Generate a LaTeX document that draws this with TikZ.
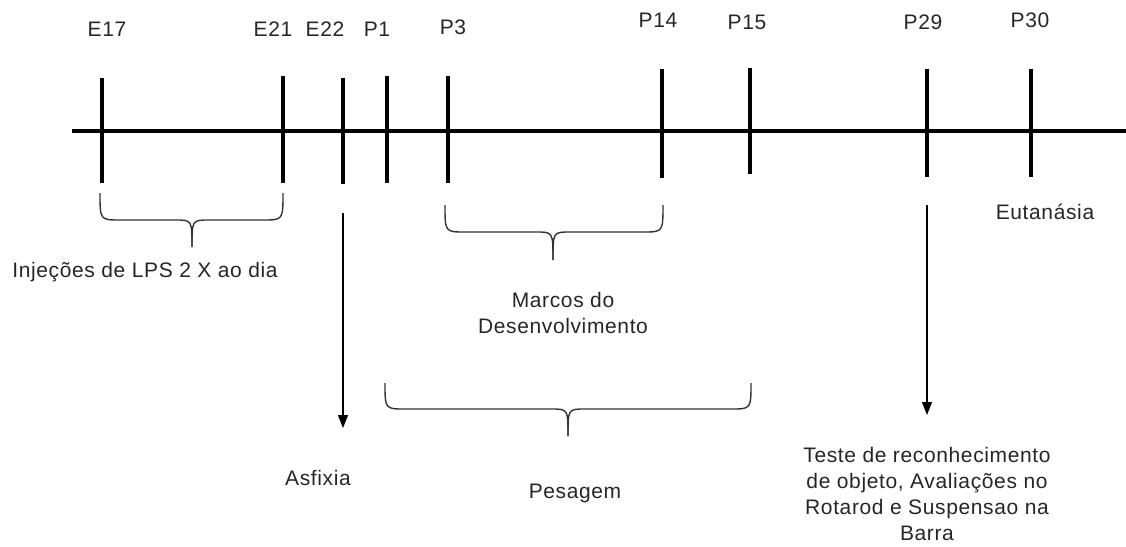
\documentclass[tikz,border=0pt]{standalone}
\usepackage{fontspec}
\setmainfont[LetterSpace=3]{Liberation Sans}
\usetikzlibrary{arrows.meta}
\begin{document}
\begin{tikzpicture}[x=1pt,y=-1pt,
  tick/.style={line width=4.5pt},
  axis/.style={line width=4.2pt},
  bracepath/.style={line width=1.4pt, draw=black!80},
  lbl/.style={font=\fontsize{21}{26}\selectfont, text=black!85, inner sep=0pt, align=center},
  arr/.style={line width=1.3pt, -{Triangle[width=10pt,length=13pt]}}]
\useasboundingbox (0,0) rectangle (1126,546);
% axis
\coordinate (L) at (72,131);
\coordinate (R) at (1126,131);
\draw[axis] (L) -- (R);
% ticks
\foreach \n/\x/\t/\b in {E17/102/78/183, E21/283/76/183, E22/343/78/184, P1/387/76/183, P3/448/76/183, P14/662/69/178, P15/750/68/174, P29/927/69/177, P30/1031/69/177}{
  \coordinate (\n t) at (\x,\t);
  \coordinate (\n b) at (\x,\b);
  \draw[tick] (\n t) -- (\n b);
}
% tick labels
\node[lbl] (lE17) at (107,29) {E17};
\node[lbl] (lE21) at (273,29) {E21};
\node[lbl] (lE22) at (325,29) {E22};
\node[lbl] (lP1) at (377,29) {P1};
\node[lbl] (lP3) at (453,27) {P3};
\node[lbl] (lP14) at (658,20) {P14};
\node[lbl] (lP15) at (747,22) {P15};
\node[lbl] (lP29) at (923,22) {P29};
\node[lbl] (lP30) at (1030,20) {P30};
% braces
\draw[bracepath] (100,193) .. controls (100,220) .. (120,220) -- (175,220) .. controls (192,220) .. (192,247);
\draw[bracepath] (283,193) .. controls (283,220) .. (263,220) -- (209,220) .. controls (192,220) .. (192,247);
\draw[bracepath] (445,205) .. controls (445,232) .. (465,232) -- (536,232) .. controls (553,232) .. (553,260);
\draw[bracepath] (663,205) .. controls (663,232) .. (643,232) -- (570,232) .. controls (553,232) .. (553,260);
\draw[bracepath] (385,383) .. controls (385,409) .. (405,409) -- (551,409) .. controls (568,409) .. (568,436);
\draw[bracepath] (751,383) .. controls (751,409) .. (731,409) -- (585,409) .. controls (568,409) .. (568,436);
% texts
\node[lbl] (inj) at (145,272) {Injeções de LPS 2 X ao dia};
\node[lbl] (marcos) at (563,313) {Marcos do\\Desenvolvimento};
\node[lbl] (pes) at (575,493) {Pesagem};
\node[lbl] (asf) at (318,478) {Asfixia};
\node[lbl] (eut) at (1045,212) {Eutanásia};
\node[lbl] (teste) at (927,494) {Teste de reconhecimento\\de objeto, Avaliações no\\Rotarod e Suspensao na\\Barra};
% arrows
\coordinate (a1s) at (343,213);
\coordinate (a1e) at (343,428);
\draw[arr] (a1s) -- (a1e);
\coordinate (a2s) at (927,205);
\coordinate (a2e) at (927,415);
\draw[arr] (a2s) -- (a2e);
\end{tikzpicture}
\end{document}
